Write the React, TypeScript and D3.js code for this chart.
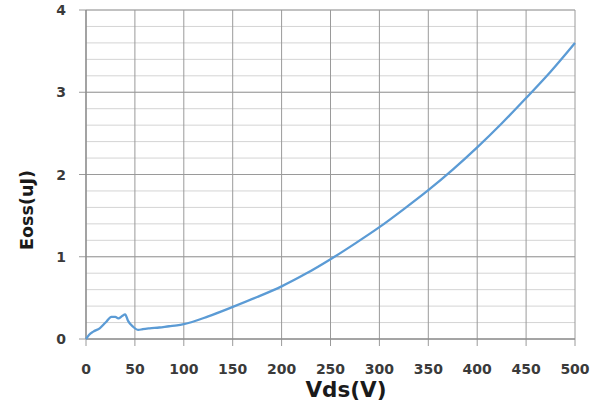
import React from "react";
import * as d3 from "d3";

const vds = [0, 3, 7.5, 14, 20, 26, 30, 33, 37, 40, 43, 48, 53.5, 58, 65, 75, 85, 93, 100, 125, 150, 175, 200, 225, 250, 275, 300, 325, 350, 375, 400, 425, 450, 475, 500];
const eoss = [0, 0.05, 0.09, 0.13, 0.2, 0.27, 0.27, 0.25, 0.28, 0.3, 0.22, 0.15, 0.11, 0.12, 0.13, 0.14, 0.155, 0.165, 0.18, 0.275, 0.39, 0.51, 0.64, 0.795, 0.97, 1.16, 1.36, 1.58, 1.81, 2.06, 2.33, 2.62, 2.93, 3.25, 3.6];
const xTicks = [0, 50, 100, 150, 200, 250, 300, 350, 400, 450, 500];
const yTicks = [0, 1, 2, 3, 4];
const yMinor = d3.range(0, 4.0001, 0.2);

export default function App() {
  const W = 605, H = 407;
  const x = d3.scaleLinear().domain([0, 500]).range([86, 575]);
  const y = d3.scaleLinear().domain([0, 4]).range([339, 10]);
  const line = d3.line<number>().x((_, i) => x(vds[i])).y((d) => y(d)).curve(d3.curveMonotoneX);
  const font = "'DejaVu Sans', Verdana, sans-serif";
  return (
    <svg width={W} height={H} style={{ position: "absolute", left: 0, top: 0, background: "#fff" }}>
      {yMinor.map((v, i) => (
        <line key={"m" + i} x1={x(0)} x2={x(500)} y1={y(v)} y2={y(v)} stroke="#d4d4d4" strokeWidth={1} />
      ))}
      {yTicks.map((v) => (
        <line key={"y" + v} x1={x(0) - 7} x2={x(500)} y1={y(v)} y2={y(v)} stroke="#9a9a9a" strokeWidth={1} />
      ))}
      {xTicks.map((v) => (
        <line key={"x" + v} x1={x(v)} x2={x(v)} y1={y(4)} y2={y(0) + 7} stroke="#9a9a9a" strokeWidth={1} />
      ))}
      <line x1={x(0)} x2={x(0)} y1={y(4)} y2={y(0)} stroke="#888" strokeWidth={1.2} />
      <line x1={x(0)} x2={x(500)} y1={y(0)} y2={y(0)} stroke="#888" strokeWidth={1.2} />
      <path d={line(eoss) || ""} fill="none" stroke="#5B9BD5" strokeWidth={2.3} />
      {yTicks.map((v) => (
        <text key={"yl" + v} x={66} y={y(v)} dy="0.36em" textAnchor="end" fontFamily={font} fontWeight={700} fontSize={14} fill="#3a3a3a">
          {v}
        </text>
      ))}
      {xTicks.map((v) => (
        <text key={"xl" + v} x={x(v)} y={369} dy="0.36em" textAnchor="middle" fontFamily={font} fontWeight={700} fontSize={14} fill="#3a3a3a">
          {v}
        </text>
      ))}
      <text x={346} y={389} dy="0.36em" textAnchor="middle" fontFamily={font} fontWeight={700} fontSize={21.5} fill="#1a1a1a">
        Vds(V)
      </text>
      <text transform="translate(27,210) rotate(-90)" dy="0.36em" textAnchor="middle" fontFamily={font} fontWeight={700} fontSize={17.5} fill="#1a1a1a">
        Eoss(uJ)
      </text>
    </svg>
  );
}
